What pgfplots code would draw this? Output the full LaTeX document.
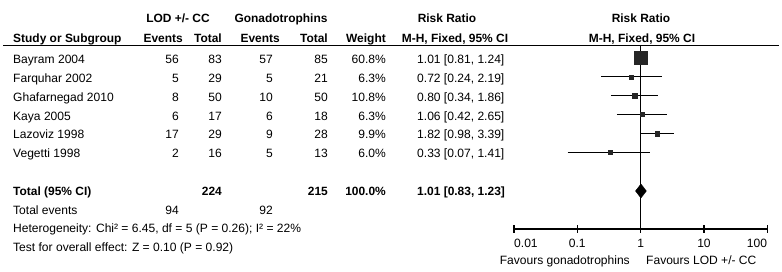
\documentclass[border=0pt]{standalone}
\usepackage{pgfplots}
\pgfplotsset{compat=1.18}
\usepackage{fontspec}
\setmainfont{Liberation Sans}
\begin{document}
\begin{tikzpicture}[every node/.style={inner sep=0pt,font=\fontsize{12.1}{14}\selectfont}]
\path[use as bounding box] (0,0) rectangle (782bp,-272bp);
\begin{scope}[x=1bp,y=-1bp]
% headers
\node[anchor=base,font=\fontsize{12}{14}\selectfont\bfseries] at (178,22.7) {LOD +/- CC};
\node[anchor=base,font=\fontsize{12}{14}\selectfont\bfseries] at (281,22.7) {Gonadotrophins};
\node[anchor=base,font=\fontsize{12}{14}\selectfont\bfseries] at (447,22.7) {Risk Ratio};
\node[anchor=base,font=\fontsize{12}{14}\selectfont\bfseries] at (641,22.7) {Risk Ratio};
\node[anchor=base west,font=\fontsize{12}{14}\selectfont\bfseries] at (13,42.3) {Study or Subgroup};
\node[anchor=base east,font=\fontsize{12}{14}\selectfont\bfseries] at (183,42.3) {Events};
\node[anchor=base east,font=\fontsize{12}{14}\selectfont\bfseries] at (222,42.3) {Total};
\node[anchor=base east,font=\fontsize{12}{14}\selectfont\bfseries] at (280,42.3) {Events};
\node[anchor=base east,font=\fontsize{12}{14}\selectfont\bfseries] at (328,42.3) {Total};
\node[anchor=base east,font=\fontsize{12}{14}\selectfont\bfseries] at (386,42.3) {Weight};
\node[anchor=base,font=\fontsize{12}{14}\selectfont\bfseries] at (455,42.3) {M-H, Fixed, 95\% CI};
\node[anchor=base,font=\fontsize{12}{14}\selectfont\bfseries] at (642,42.3) {M-H, Fixed, 95\% CI};
\draw[line width=1.2bp] (3,45.2) -- (779,45.2);
% rows
\foreach \y/\n/\a/\b/\c/\d/\w/\r in {
 63.5/Bayram 2004/56/83/57/85/60.8\%/1.01 [0.81{,} 1.24],
 82.35/Farquhar 2002/5/29/5/21/6.3\%/0.72 [0.24{,} 2.19],
 101.2/Ghafarnegad 2010/8/50/10/50/10.8\%/0.80 [0.34{,} 1.86],
 120.05/Kaya 2005/6/17/6/18/6.3\%/1.06 [0.42{,} 2.65],
 138.9/Lazoviz 1998/17/29/9/28/9.9\%/1.82 [0.98{,} 3.39],
 157.75/Vegetti 1998/2/16/5/13/6.0\%/0.33 [0.07{,} 1.41]}{
 \node[anchor=base west] at (13,\y) {\n};
 \node[anchor=base east] at (179,\y) {\a};
 \node[anchor=base east] at (222,\y) {\b};
 \node[anchor=base east] at (273,\y) {\c};
 \node[anchor=base east] at (328,\y) {\d};
 \node[anchor=base east] at (386,\y) {\w};
 \node[anchor=base west] at (417,\y) {\r};
}
\node[anchor=base west,font=\fontsize{12}{14}\selectfont\bfseries] at (13,195) {Total (95\% CI)};
\node[anchor=base east,font=\fontsize{12}{14}\selectfont\bfseries] at (222,195) {224};
\node[anchor=base east,font=\fontsize{12}{14}\selectfont\bfseries] at (328,195) {215};
\node[anchor=base east,font=\fontsize{12}{14}\selectfont\bfseries] at (386,195) {100.0\%};
\node[anchor=base west,font=\fontsize{12}{14}\selectfont\bfseries] at (417,195) {1.01 [0.83, 1.23]};
\node[anchor=base west] at (13,214) {Total events};
\node[anchor=base east] at (179,214) {94};
\node[anchor=base east] at (273,214) {92};
\node[anchor=base west] at (13,232.8) {Heterogeneity: Chi² = 6.45, df = 5 (P = 0.26); I² = 22\%};
\node[anchor=base west] at (13,251.6) {Test for overall effect: Z = 0.10 (P = 0.92)};
% axis labels
\node[anchor=base west] at (514,247.6) {0.01};
\node[anchor=base] at (577.3,247.6) {0.1};
\node[anchor=base] at (640.7,247.6) {1};
\node[anchor=base] at (704,247.6) {10};
\node[anchor=base east] at (767.3,247.6) {100};
\node[anchor=base east] at (630,264) {Favours gonadotrophins};
\node[anchor=base west] at (646,264) {Favours LOD +/- CC};
\end{scope}
\begin{axis}[at={(514bp,-229bp)}, anchor=south west, scale only axis,
  width=253.3bp, height=183.8bp, xmode=log, xmin=0.01, xmax=100,
  ymin=-229, ymax=-45.2, clip=false,
  axis x line=bottom, axis y line=none, axis line style={-,line width=1.1bp},
  xtick={0.01,0.1,1,10,100}, xticklabels={}, xminorticks=false,
  tick align=center, major tick length=7.5bp, tick style={line width=1.1bp,black},
  ]
\addplot[line width=1.1bp] coordinates {(1,-45.2) (1,-229)};
\addplot[line width=1.1bp] coordinates {(0.81,-58) (1.24,-58)};
\addplot[line width=1.1bp] coordinates {(0.24,-76.85) (2.19,-76.85)};
\addplot[line width=1.1bp] coordinates {(0.34,-95.7) (1.86,-95.7)};
\addplot[line width=1.1bp] coordinates {(0.42,-114.55) (2.65,-114.55)};
\addplot[line width=1.1bp] coordinates {(0.98,-133.4) (3.39,-133.4)};
\addplot[line width=1.1bp] coordinates {(0.07,-152.25) (1.41,-152.25)};
\addplot[only marks, mark=square*, mark size=6.5bp, color=black!85] coordinates {(1.01,-58)};
\addplot[only marks, mark=square*, mark size=2bp, color=black!85] coordinates {(0.72,-76.85)};
\addplot[only marks, mark=square*, mark size=2.5bp, color=black!85] coordinates {(0.80,-95.7)};
\addplot[only marks, mark=square*, mark size=2bp, color=black!85] coordinates {(1.06,-114.55)};
\addplot[only marks, mark=square*, mark size=2.4bp, color=black!85] coordinates {(1.82,-133.4)};
\addplot[only marks, mark=square*, mark size=2bp, color=black!85] coordinates {(0.33,-152.25)};
\addplot[fill=black, draw=black] coordinates {(0.83,-191) (1.01,-184) (1.23,-191) (1.01,-198)} -- cycle;
\end{axis}
\end{tikzpicture}
\end{document}
